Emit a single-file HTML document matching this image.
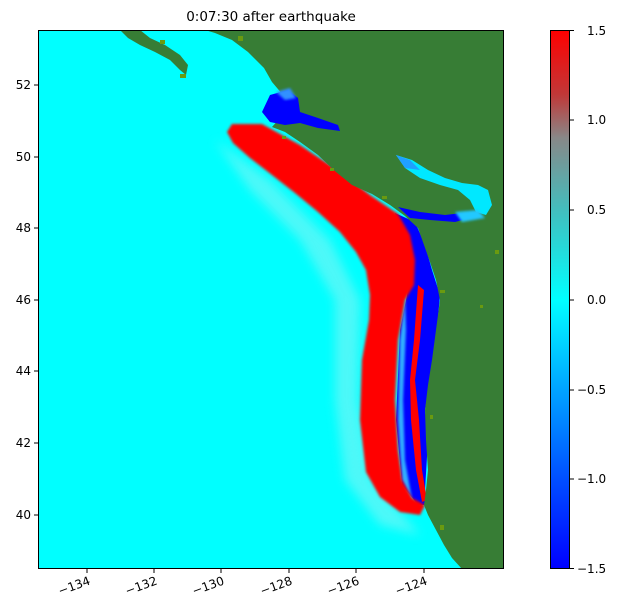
<!DOCTYPE html>
<html><head><style>
body{margin:0;background:#fff;}
svg{display:block;font-family:"DejaVu Sans","Liberation Sans",sans-serif;}
</style></head><body>
<svg width="630" height="615" viewBox="0 0 630 615" xmlns="http://www.w3.org/2000/svg">
<defs>
<linearGradient id="cb" x1="0" y1="0" x2="0" y2="1">
<stop offset="0" stop-color="#ff0000"/>
<stop offset="0.12" stop-color="#c03838"/>
<stop offset="0.2" stop-color="#888888"/>
<stop offset="0.34" stop-color="#40c0c0"/>
<stop offset="0.5" stop-color="#00ffff"/>
<stop offset="0.66" stop-color="#00a8ff"/>
<stop offset="0.83" stop-color="#0050ff"/>
<stop offset="1" stop-color="#0000ff"/>
</linearGradient>
<filter id="bl"><feGaussianBlur stdDeviation="5"/></filter>
<filter id="bl2"><feGaussianBlur stdDeviation="1.2"/></filter>
<clipPath id="ax"><rect x="38" y="30" width="466" height="539"/></clipPath>
</defs>
<text x="271" y="21" font-size="13.5" text-anchor="middle">0:07:30 after earthquake</text>
<g clip-path="url(#ax)">
<rect x="38" y="30" width="466" height="539" fill="#00ffff"/>
<!-- faint tint west of band -->
<path d="M215,140 L250,190 L300,240 L335,300 L335,400 L345,480 L380,525 L420,535 L372,480 L358,400 L360,300 L330,240 L270,180 Z" fill="#80f4f4" filter="url(#bl)" opacity="0.6"/>
<!-- blue between red and coast -->
<path d="M395,213 L415,222 L425,245 L432,270 L440,295 L436,340 L430,380 L425,410 L428,440 L425,490 L425,505 L418,505 L402,485 L396,420 L400,330 L410,280 Z" fill="#0000ff"/>
<path d="M405,295 L400,340 L398,420 L402,480 L412,500 L405,460 L403,400 L406,330 Z" fill="#30b0ff" filter="url(#bl2)"/>
<!-- red band -->
<path d="M232,124 L262,124 L300,145 L340,172 L370,195 L398,214 L410,235 L415,260 L414,285 L405,300 L398,340 L395,400 L398,450 L402,480 L412,498 L425,505 L420,515 L400,512 L380,497 L366,472 L360,420 L362,360 L369,320 L370,295 L366,270 L356,252 L340,232 L318,212 L295,193 L272,175 L250,158 L233,143 L227,132 Z" fill="#ff0000" filter="url(#bl2)"/>
<!-- narrow red strip near coast -->
<path d="M418,285 L424,290 L420,340 L415,380 L419,420 L422,470 L427,500 L422,502 L416,470 L411,420 L410,380 L414,340 Z" fill="#ff0000"/>
<!-- land -->
<path fill="#377d35" d="M205,30 L504,30 L504,569 L462,569 L452,558 L444,545 L436,530 L428,515 L424,505 L426,490 L428,470 L426,440 L425,410 L428,385 L432,360 L436,330 L440,300 L436,280 L430,262 L424,245 L418,228 L405,216 L390,205 L372,194 L352,185 L336,172 L318,155 L300,142 L285,132 L272,127 L280,118 L290,108 L283,95 L272,82 L264,68 L248,52 L232,40 L215,33 Z"/>
<!-- islands top-left -->
<path fill="#377d35" d="M120,30 L140,30 L150,38 L165,45 L180,55 L188,65 L186,75 L180,70 L170,60 L155,52 L140,45 L128,38 Z"/>
<rect x="160" y="40" width="5" height="4" fill="#6a9a10"/>
<rect x="180" y="74" width="6" height="4" fill="#6a9a10"/>
<!-- Queen Charlotte sound blue -->
<path fill="#0000ff" d="M270,95 L288,90 L298,98 L300,112 L318,118 L338,125 L340,131 L318,128 L300,123 L285,125 L270,122 L262,112 Z"/>
<path fill="#3090ff" d="M276,92 L290,88 L296,98 L285,100 Z" filter="url(#bl2)"/>
<!-- Strait of Georgia -->
<path fill="#00e8ff" d="M396,155 L412,160 L428,170 L445,178 L462,183 L478,185 L488,190 L492,205 L486,215 L476,212 L470,200 L458,190 L440,185 L420,178 L405,168 Z"/>
<path fill="#20a0ff" d="M396,155 L410,160 L420,170 L405,168 Z"/>
<!-- Juan de Fuca -->
<path fill="#0000ff" d="M398,207 L420,212 L445,215 L462,213 L470,218 L455,222 L430,220 L410,218 Z"/>
<path fill="#20c8ff" d="M455,212 L478,210 L485,218 L462,222 Z" filter="url(#bl2)"/>
<g fill="#6a9a10">
<rect x="282" y="136" width="4" height="3"/><rect x="330" y="168" width="4" height="3"/><rect x="382" y="196" width="5" height="3"/>
<rect x="440" y="290" width="5" height="3"/><rect x="480" y="305" width="3" height="3"/><rect x="430" y="415" width="3" height="4"/>
<rect x="440" y="525" width="4" height="5"/><rect x="495" y="250" width="4" height="4"/><rect x="238" y="36" width="5" height="5"/>
</g>
</g>
<rect x="38.5" y="30.5" width="465" height="538" fill="none" stroke="#000" stroke-width="1"/>
<g stroke="#000" stroke-width="1">
<line x1="87" y1="569" x2="87" y2="573"/><line x1="154" y1="569" x2="154" y2="573"/><line x1="221" y1="569" x2="221" y2="573"/>
<line x1="289" y1="569" x2="289" y2="573"/><line x1="356" y1="569" x2="356" y2="573"/><line x1="424" y1="569" x2="424" y2="573"/>
<line x1="34" y1="85" x2="38" y2="85"/><line x1="34" y1="157" x2="38" y2="157"/><line x1="34" y1="228" x2="38" y2="228"/>
<line x1="34" y1="300" x2="38" y2="300"/><line x1="34" y1="371" x2="38" y2="371"/><line x1="34" y1="443" x2="38" y2="443"/><line x1="34" y1="515" x2="38" y2="515"/>
</g>
<g font-size="12" text-anchor="end">
<text transform="translate(91,584) rotate(-20)">−134</text>
<text transform="translate(158,584) rotate(-20)">−132</text>
<text transform="translate(225,584) rotate(-20)">−130</text>
<text transform="translate(293,584) rotate(-20)">−128</text>
<text transform="translate(360,584) rotate(-20)">−126</text>
<text transform="translate(428,584) rotate(-20)">−124</text>
<text x="31" y="89">52</text><text x="31" y="161">50</text><text x="31" y="232">48</text>
<text x="31" y="304">46</text><text x="31" y="375">44</text><text x="31" y="447">42</text><text x="31" y="519">40</text>
</g>
<rect x="550" y="30" width="20" height="539" fill="url(#cb)"/>
<rect x="550.5" y="30.5" width="19" height="538" fill="none" stroke="#000" stroke-width="1"/>
<g stroke="#000"><line x1="570" y1="30.5" x2="574" y2="30.5"/><line x1="570" y1="120" x2="574" y2="120"/><line x1="570" y1="210" x2="574" y2="210"/><line x1="570" y1="300" x2="574" y2="300"/><line x1="570" y1="390" x2="574" y2="390"/><line x1="570" y1="479" x2="574" y2="479"/><line x1="570" y1="568.5" x2="574" y2="568.5"/></g>
<g font-size="12">
<text x="587" y="35">1.5</text><text x="587" y="124">1.0</text><text x="587" y="214">0.5</text><text x="587" y="304">0.0</text>
<text x="577" y="394">−0.5</text><text x="577" y="483">−1.0</text><text x="577" y="573">−1.5</text>
</g>
</svg>
</body></html>
